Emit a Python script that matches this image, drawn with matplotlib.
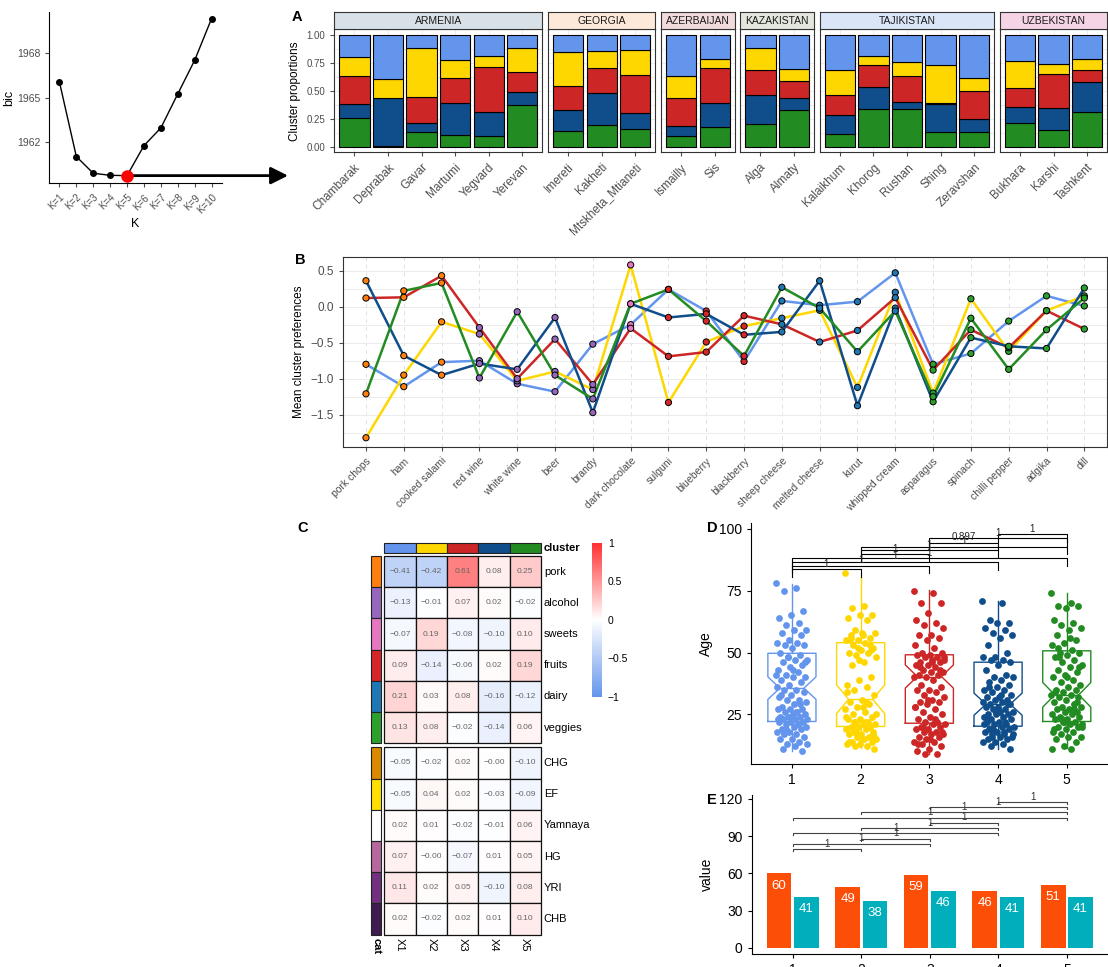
import numpy as np
import matplotlib
matplotlib.use('Agg')
import matplotlib.pyplot as plt
from matplotlib.patches import Rectangle
from matplotlib.colors import LinearSegmentedColormap, Normalize
from matplotlib.cm import ScalarMappable

plt.rcParams['font.family'] = ['Liberation Sans', 'DejaVu Sans']

# ---------------- data ----------------
# BIC curve
k_labels = ['K=1', 'K=2', 'K=3', 'K=4', 'K=5', 'K=6', 'K=7', 'K=8', 'K=9', 'K=10']
bic = [1966.06, 1961.01, 1959.88, 1959.74, 1959.72, 1961.75, 1962.95, 1965.25, 1967.53, 1970.35]

# A: cluster proportions per site
countries = ['ARMENIA', 'GEORGIA', 'AZERBAIJAN', 'KAZAKISTAN', 'TAJIKISTAN', 'UZBEKISTAN']
strip_colors = ['#D9E1E8', '#FDE9D9', '#F0DADB', '#E3E6DC', '#DAE6F8', '#F5D5E5']
sites = [['Chambarak', 'Deprabak', 'Gavar', 'Martumi', 'Yegvard', 'Yerevan'],
         ['Imereti', 'Kakheti', 'Mtskheta_Mtianeti'],
         ['Ismailly', 'Sis'],
         ['Alga', 'Almaty'],
         ['Kalaikhum', 'Khorog', 'Rushan', 'Shing', 'Zeravshan'],
         ['Bukhara', 'Karshi', 'Tashkent']]
prop_c1 = [.200, .394, .113, .227, .185, .113, .155, .146, .134, .364, .220, .113, .304, .316, .191, .242, .266, .382, .233, .260, .220]
prop_c2 = [.164, .173, .439, .155, .105, .218, .299, .154, .221, .200, .080, .203, .108, .224, .081, .125, .343, .122, .245, .086, .096]
prop_c3 = [.251, .000, .233, .230, .400, .182, .221, .222, .345, .248, .312, .221, .149, .173, .191, .233, .012, .251, .170, .311, .108]
prop_c4 = [.131, .428, .087, .284, .210, .117, .188, .281, .145, .088, .212, .257, .114, .171, .197, .060, .245, .117, .140, .191, .269]
prop_c5 = [.254, .005, .128, .104, .100, .370, .137, .197, .155, .100, .176, .206, .325, .116, .340, .340, .134, .128, .212, .152, .307]

cl_colors = ['#6495ED', '#FFD700', '#CD2626', '#104E8B', '#228B22']

# B: mean cluster preferences
foods = ['pork chops', 'ham', 'cooked salami', 'red wine', 'white wine', 'beer', 'brandy',
         'dark chocolate', 'sulguni', 'blueberry', 'blackberry', 'sheep cheese', 'melted cheese',
         'kurut', 'whipped cream', 'asparagus', 'spinach', 'chilli pepper', 'adgika', 'dill']
food_cat = ['pork'] * 3 + ['alcohol'] * 4 + ['sweets'] + ['fruits'] * 3 + ['dairy'] * 4 + ['veggies'] * 5
pref_c1 = [-0.80, -1.11, -0.77, -0.75, -1.07, -1.18, -0.52, -0.25, 0.24, -0.06, -0.76, 0.08, 0.02, 0.07, 0.47, -0.80, -0.65, -0.20, 0.15, 0.01]
pref_c2 = [-1.82, -0.95, -0.21, -0.38, -1.03, -0.90, -1.15, 0.58, -1.33, -0.49, -0.27, -0.16, -0.05, -1.12, 0.20, -1.20, 0.11, -0.62, -0.055, 0.15]
pref_c3 = [0.12, 0.13, 0.43, -0.29, -1.00, -0.45, -1.08, -0.30, -0.69, -0.63, -0.125, -0.245, -0.49, -0.33, 0.125, -0.88, -0.32, -0.57, -0.055, -0.31]
pref_c4 = [0.36, -0.68, -0.95, -0.79, -0.87, -0.15, -1.47, 0.04, -0.15, -0.10, -0.39, -0.35, 0.36, -1.375, -0.02, -1.32, -0.43, -0.55, -0.58, 0.26]
pref_c5 = [-1.21, 0.22, 0.33, -0.99, -0.07, -0.95, -1.28, 0.04, 0.24, -0.20, -0.685, 0.27, -0.02, -0.625, -0.06, -1.25, -0.16, -0.87, -0.32, 0.12]

cat_colors = {'pork': '#FF7F0E', 'alcohol': '#9467BD', 'sweets': '#E377C2',
              'fruits': '#D62728', 'dairy': '#1F77B4', 'veggies': '#2CA02C'}

# C: correlation heatmap
hm_rows = ['pork', 'alcohol', 'sweets', 'fruits', 'dairy', 'veggies', 'CHG', 'EF', 'Yamnaya', 'HG', 'YRI', 'CHB']
hm_cols = ['X1', 'X2', 'X3', 'X4', 'X5']
hm_vals = [[-0.41, -0.42, 0.61, 0.08, 0.25],
           [-0.13, -0.01, 0.07, 0.02, -0.02],
           [-0.07, 0.19, -0.08, -0.10, 0.10],
           [0.09, -0.14, -0.06, 0.02, 0.19],
           [0.21, 0.03, 0.08, -0.16, -0.12],
           [0.13, 0.08, -0.02, -0.14, 0.06],
           [-0.05, -0.02, 0.02, -0.0, -0.10],
           [-0.05, 0.04, 0.02, -0.03, -0.09],
           [0.02, 0.01, -0.02, -0.01, 0.06],
           [0.07, -0.0, -0.07, 0.01, 0.05],
           [0.11, 0.02, 0.05, -0.10, 0.08],
           [0.02, -0.02, 0.02, 0.01, 0.10]]
row_cat_colors = ['#FF7F0E', '#9467BD', '#E377C2', '#D62728', '#1F77B4', '#2CA02C',
                  '#DA8A00', '#FFE000', '#FFFFFF', '#B5679E', '#733080', '#3F1B4F']

# D: age by cluster
age_c1 = [78, 76, 75, 67, 65, 64, 62, 61, 59, 59, 58, 57, 55, 54, 54, 53, 53, 52, 50, 49, 48, 47, 47, 46, 45,
          44, 43, 42, 41, 40, 40, 39, 38, 37, 36, 35, 35, 34, 33, 32, 31, 31, 30, 29, 28, 27, 27, 27, 26, 26,
          25, 25, 24, 24, 24, 23, 23, 23, 22, 22, 22, 21, 21, 20, 20, 19, 19, 18, 18, 17, 17, 16, 15, 15, 14,
          13, 13, 12, 11, 10, 24, 23, 21, 19, 46, 43, 33, 29, 48, 41, 26, 18]
age_c2 = [82, 69, 68, 65, 65, 64, 63, 59, 58, 57, 57, 56, 55, 55, 54, 53, 52, 51, 50, 50, 49, 48, 46, 45, 40,
          39, 37, 36, 35, 33, 31, 30, 29, 28, 27, 26, 25, 24, 23, 23, 22, 22, 21, 21, 20, 20, 20, 19, 19, 18,
          18, 17, 17, 16, 16, 15, 15, 14, 14, 13, 13, 12, 12, 11, 58, 55, 53, 52, 24, 22, 19, 17, 15, 14, 21,
          18, 25, 28, 56, 51, 47, 34, 30, 22, 16]
age_c3 = [75, 74, 70, 70, 66, 63, 62, 61, 60, 57, 57, 56, 55, 53, 52, 50, 50, 49, 49, 48, 48, 47, 47, 46, 46,
          45, 45, 44, 43, 42, 42, 41, 41, 40, 40, 39, 37, 36, 35, 35, 34, 33, 32, 31, 30, 30, 29, 28, 27, 26,
          25, 24, 23, 22, 22, 21, 21, 20, 20, 19, 19, 18, 18, 17, 17, 16, 16, 15, 14, 14, 13, 12, 11, 10, 9,
          9, 48, 46, 44, 43, 31, 28, 23, 20, 18, 15, 13]
age_c4 = [71, 70, 63, 62, 62, 60, 59, 58, 57, 56, 53, 50, 48, 48, 47, 47, 46, 45, 43, 41, 40, 40, 39, 38, 37,
          36, 35, 35, 34, 33, 32, 32, 31, 31, 30, 30, 29, 29, 28, 28, 27, 27, 26, 26, 25, 25, 25, 24, 24, 23,
          23, 22, 22, 21, 21, 20, 20, 19, 19, 18, 18, 17, 17, 16, 16, 15, 15, 14, 14, 13, 12, 11, 27, 24, 22,
          19, 17, 33, 36, 29, 26, 21, 18, 16]
age_c5 = [74, 70, 69, 69, 68, 63, 62, 61, 60, 59, 57, 55, 54, 53, 51, 50, 50, 49, 48, 47, 46, 45, 44, 43, 42,
          41, 40, 39, 38, 37, 36, 35, 35, 34, 33, 33, 32, 32, 31, 30, 29, 28, 28, 27, 27, 26, 26, 25, 25, 24,
          24, 23, 23, 22, 22, 21, 21, 20, 20, 19, 19, 18, 17, 16, 16, 15, 14, 12, 11, 11, 48, 44, 40, 34, 27,
          23, 20, 56, 52, 30, 22, 18]
box_q1 = [22.1, 20.1, 21.4, 20.2, 22.1]
box_med = [35.6, 31.1, 40.3, 29.1, 32.9]
box_q3 = [49.7, 54.0, 49.1, 46.1, 50.7]
box_lo = [10.0, 11.3, 8.9, 10.9, 11.3]
box_hi = [77.8, 81.0, 75.3, 70.9, 74.0]

pairs = [(1, 2), (1, 3), (1, 4), (1, 5), (2, 3), (2, 4), (2, 5), (3, 4), (3, 5), (4, 5)]
d_sig_y = [83.7, 85.2, 86.6, 88.1, 89.7, 91.3, 92.9, 94.4, 96.2, 97.8]
d_sig_lab = ['1', '1', '1', '1', '1', '1', '1', '0.897', '1', '1']

# E: grouped bars
e_a = [60, 49, 59, 46, 51]
e_b = [41, 38, 46, 41, 41]
e_pairs = [(1, 2), (1, 3), (2, 3), (1, 4), (2, 4), (3, 4), (1, 5), (2, 5), (3, 5), (4, 5)]
e_sig_y = [79.6, 83.9, 88.0, 92.5, 96.6, 100.9, 104.9, 109.2, 113.5, 117.6]

# ---------------- figure ----------------
W, H = 1108, 967
fig = plt.figure(figsize=(W / 100, H / 100), dpi=100)


def pax(x0, y0, x1, y1):
    return fig.add_axes([x0 / W, 1 - y1 / H, (x1 - x0) / W, (y1 - y0) / H])


grey30 = '#4D4D4D'

# ---- BIC ----
ax = pax(49.3, 12, 221.7, 183.3)
ks = np.arange(1, 11)
ax.plot(ks, bic, color='black', lw=1, marker='o', ms=4)
ax.plot(5, bic[4], 'o', color='red', ms=8, zorder=6)
ax.annotate('', xy=(288 / W, bic[4]), xycoords=('figure fraction', 'data'),
            xytext=(5, bic[4]), textcoords='data', annotation_clip=False,
            arrowprops=dict(arrowstyle='-|>', lw=2, color='black', mutation_scale=26, shrinkA=0, shrinkB=0))
ax.set_xlim(0.4, 10.6)
ax.set_ylim(1959.2, 1970.8)
ax.set_yticks([1962, 1965, 1968])
ax.set_xticks(ks)
ax.set_xticklabels(k_labels, rotation=45, ha='right', rotation_mode='anchor')
ax.tick_params(labelsize=7, colors=grey30, length=3)
ax.tick_params(axis='y', labelsize=7.5)
for s in ['top', 'right']:
    ax.spines[s].set_visible(False)
ax.set_ylabel('bic', fontsize=9, labelpad=1)
ax.set_xlabel('K', fontsize=9, labelpad=2)

# ---- A ----
props = [prop_c1, prop_c2, prop_c3, prop_c4, prop_c5]
unit, gap = 33.58, 5.5
x = 334.3
i0 = 0
for ci, country in enumerate(countries):
    n = len(sites[ci])
    w = (n + 0.2) * unit
    ax = pax(x, 29.3, x + w, 152.3)
    bottom = np.zeros(n)
    for k in [4, 3, 2, 1, 0]:
        vals = np.array(props[k][i0:i0 + n])
        ax.bar(np.arange(n), vals, bottom=bottom, width=0.9, color=cl_colors[k],
               edgecolor='black', lw=0.8, zorder=3)
        bottom += vals
    ax.set_xlim(-0.6, n - 0.4)
    ax.set_ylim(-0.05, 1.05)
    ax.set_yticks([0, 0.25, 0.5, 0.75, 1.0])
    ax.set_yticks([0.125, 0.375, 0.625, 0.875], minor=True)
    ax.grid(True, which='both', color='#EBEBEB', lw=0.6, zorder=0)
    ax.set_xticks(np.arange(n))
    ax.set_xticklabels(sites[ci], rotation=45, ha='right', rotation_mode='anchor')
    ax.tick_params(axis='x', labelsize=8.5, colors=grey30, length=3)
    ax.tick_params(axis='y', which='minor', length=0)
    if ci == 0:
        ax.set_yticklabels(['0.00', '0.25', '0.50', '0.75', '1.00'])
        ax.tick_params(axis='y', labelsize=7, colors=grey30, length=3)
        ax.set_ylabel('Cluster proportions', fontsize=8.5)
    else:
        ax.tick_params(axis='y', length=0, labelleft=False)
    for s in ax.spines.values():
        s.set_color('#333333')
    sax = pax(x, 11.7, x + w, 29.3)
    sax.set_facecolor(strip_colors[ci])
    sax.set_xticks([])
    sax.set_yticks([])
    for s in sax.spines.values():
        s.set_color('#333333')
    sax.text(0.5, 0.5, country, ha='center', va='center', fontsize=7.5, color='#1A1A1A',
             transform=sax.transAxes)
    x += w + gap
    i0 += n

# ---- B ----
ax = pax(343.3, 256.7, 1107, 446.7)
xs = np.arange(len(foods))
prefs = [pref_c1, pref_c2, pref_c3, pref_c4, pref_c5]
for k in range(5):
    ax.plot(xs, prefs[k], color=cl_colors[k], lw=1.8, zorder=3)
mcols = [cat_colors[c] for c in food_cat]
for k in range(5):
    ax.scatter(xs, prefs[k], s=20, c=mcols, edgecolors='black', linewidths=0.7, zorder=4)
ax.set_xlim(-0.6, 19.6)
ax.set_ylim(-1.944, 0.694)
ax.set_yticks([0.5, 0.0, -0.5, -1.0, -1.5])
ax.set_yticklabels(['0.5', '0.0', '\u22120.5', '\u22121.0', '\u22121.5'])
ax.set_yticks([-1.75, -1.25, -0.75, -0.25, 0.25], minor=True)
ax.set_xticks(xs)
ax.set_xticklabels(foods, rotation=45, ha='right', rotation_mode='anchor')
ax.tick_params(axis='x', labelsize=7.5, colors=grey30, length=3)
ax.tick_params(axis='y', labelsize=8.5, colors=grey30, length=3)
ax.tick_params(axis='y', which='minor', length=0)
ax.grid(True, axis='y', which='both', color='#EBEBEB', lw=0.7, zorder=0)
ax.grid(True, axis='x', color='#E0E0E0', lw=0.7, ls=(0, (4, 4)), zorder=0)
ax.set_ylabel('Mean cluster preferences', fontsize=8.5)
for s in ax.spines.values():
    s.set_color('#333333')

# ---- C ----
cmap = LinearSegmentedColormap.from_list('cor', ['#6495ED', '#FFFFFF', '#FF3030'])
norm = Normalize(-1, 1)
ax = pax(355, 530, 700, 967)
ax.set_xlim(355, 700)
ax.set_ylim(967, 530)
ax.axis('off')
hx0, cw, rh = 384.3, 31.3, 31.2
for j in range(5):
    ax.add_patch(Rectangle((hx0 + j * cw, 542.7), cw, 10.6, facecolor=cl_colors[j],
                           edgecolor='#222222', lw=0.8))
ax.text(hx0 + 5 * cw + 3, 548, 'cluster', fontsize=8, fontweight='bold', va='center', ha='left')
for i, rname in enumerate(hm_rows):
    ry = 556 + i * rh if i < 6 else 747.3 + (i - 6) * rh
    ax.add_patch(Rectangle((371, ry), 10.3, rh, facecolor=row_cat_colors[i], edgecolor='#222222', lw=0.8))
    for j in range(5):
        v = hm_vals[i][j]
        ax.add_patch(Rectangle((hx0 + j * cw, ry), cw, rh, facecolor=cmap(norm(v)),
                               edgecolor='#111111', lw=0.9))
        ax.text(hx0 + (j + 0.5) * cw, ry + rh / 2, f'{v:.2f}'.replace('-', '\u2212'),
                ha='center', va='center', fontsize=6, color='#666666')
    ax.text(hx0 + 5 * cw + 3, ry + rh / 2, rname, fontsize=8, va='center', ha='left')
for j, cname in enumerate(hm_cols):
    ax.text(hx0 + (j + 0.5) * cw, 937.5, cname, rotation=270, ha='center', va='top', fontsize=8)
ax.text(376.2, 937.5, 'cat', rotation=270, ha='center', va='top', fontsize=8, fontweight='bold')

cax = pax(592, 542.7, 602.3, 696.7)
cb = fig.colorbar(ScalarMappable(norm=norm, cmap=cmap), cax=cax)
cb.outline.set_visible(False)
cb.set_ticks([-1, -0.5, 0, 0.5, 1])
cb.set_ticklabels(['\u22121', '\u22120.5', '0', '0.5', '1'])
cax.tick_params(labelsize=7.5, length=0, pad=4)

# ---- D ----
ax = pax(750.7, 523.3, 1108, 764)
ages = [age_c1, age_c2, age_c3, age_c4, age_c5]
stats = []
for k in range(5):
    n = len(ages[k])
    iqr = box_q3[k] - box_q1[k]
    stats.append(dict(med=box_med[k], q1=box_q1[k], q3=box_q3[k], whislo=box_lo[k], whishi=box_hi[k],
                      cilo=box_med[k] - 1.58 * iqr / np.sqrt(n), cihi=box_med[k] + 1.58 * iqr / np.sqrt(n),
                      fliers=[]))
bp = ax.bxp(stats, positions=np.arange(1, 6), widths=0.7, shownotches=True, showcaps=False,
            showfliers=False, manage_ticks=False)
for k in range(5):
    bp['boxes'][k].set_color(cl_colors[k])
    bp['boxes'][k].set_linewidth(1)
    bp['medians'][k].set_color(cl_colors[k])
    bp['medians'][k].set_linewidth(1)
    for wl in bp['whiskers'][2 * k:2 * k + 2]:
        wl.set_color(cl_colors[k])
        wl.set_linewidth(1)
for k in range(5):
    n = len(ages[k])
    jit = ((np.arange(n) * 0.6180339887) % 1 - 0.5) * 0.46
    ax.scatter(k + 1 + jit, ages[k], s=24, color=cl_colors[k], zorder=4, linewidths=0)
for (a, b), yy, lab in zip(pairs, d_sig_y, d_sig_lab):
    ax.plot([a, a, b, b], [yy - 3.0, yy, yy, yy - 3.0], color='black', lw=0.8)
    ax.text((a + b) / 2, yy + 0.3, lab, ha='center', va='bottom', fontsize=7, color='#222222')
ax.set_xlim(0.4, 5.6)
ax.set_ylim(4.9, 102.3)
ax.set_yticks([25, 50, 75, 100])
ax.set_xticks(np.arange(1, 6))
ax.tick_params(labelsize=10, colors='black', length=3)
for s in ['top', 'right']:
    ax.spines[s].set_visible(False)
ax.set_ylabel('Age', fontsize=10)

# ---- E ----
ax = pax(751.7, 795, 1108, 954.3)
pos = np.arange(1, 6)
ax.bar(pos - 0.2, e_a, width=0.36, color='#FC4E07')
ax.bar(pos + 0.2, e_b, width=0.36, color='#00AFBB')
for p, va_, vb_ in zip(pos, e_a, e_b):
    ax.text(p - 0.2, va_ - 10, str(va_), ha='center', va='center', color='white', fontsize=9.5)
    ax.text(p + 0.2, vb_ - 10, str(vb_), ha='center', va='center', color='white', fontsize=9.5)
for (a, b), yy in zip(e_pairs, e_sig_y):
    ax.plot([a, a, b, b], [yy - 1.6, yy, yy, yy - 1.6], color='#444444', lw=0.8)
    ax.text((a + b) / 2, yy + 0.2, '1', ha='center', va='bottom', fontsize=7, color='#333333')
ax.set_xlim(0.4, 5.6)
ax.set_ylim(-5.3, 123.2)
ax.set_yticks([0, 30, 60, 90, 120])
ax.set_xticks(pos)
ax.tick_params(labelsize=10, colors='black', length=3)
for s in ['top', 'right']:
    ax.spines[s].set_visible(False)
ax.set_ylabel('value', fontsize=10)

# panel letters
for lab, px_, py_ in [('A', 297, 17), ('B', 300, 260), ('C', 303, 528), ('D', 712, 528), ('E', 712, 800)]:
    fig.text(px_ / W, 1 - py_ / H, lab, fontsize=10.5, fontweight='bold', ha='center', va='center')

fig.savefig('out.png', dpi=100)
